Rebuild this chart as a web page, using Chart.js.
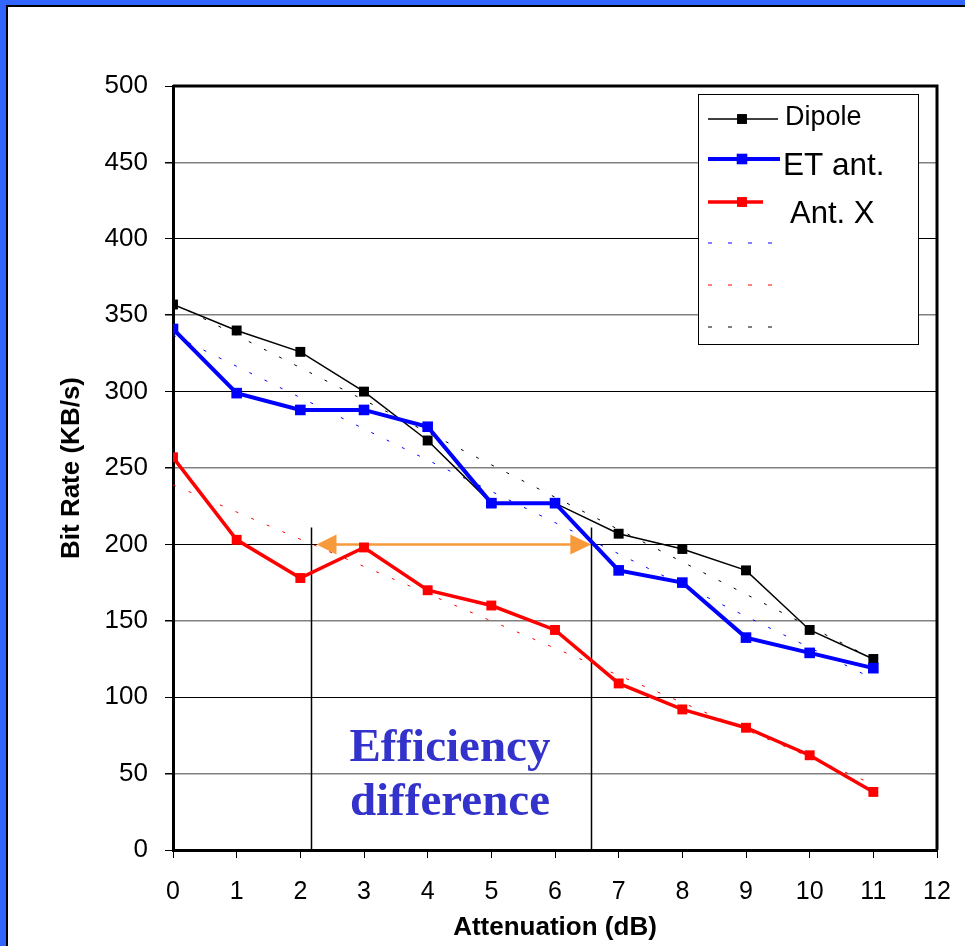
<!DOCTYPE html>
<html>
<head>
<meta charset="utf-8">
<script src="https://cdn.jsdelivr.net/npm/chart.js@4.4.1/dist/chart.umd.min.js"></script>
<style>
  html, body { margin: 0; padding: 0; }
  body { width: 965px; height: 946px; background: #3366ff; position: relative; overflow: hidden; }
  #panel { position: absolute; left: 6px; top: 5px; right: 0; bottom: 0; background: #fff;
           border-left: 2px solid #000; border-top: 2px solid #000; }
  #chart { position: absolute; left: 0; top: 0; }
</style>
</head>
<body>
<div id="panel"></div>
<canvas id="chart" width="965" height="946"></canvas>
<script>
// === Datos ===
const attenuation = [0, 1, 2, 3, 4, 5, 6, 7, 8, 9, 10, 11];
const dipole = [357, 340, 326, 300, 268, 227, 227, 207, 197, 183, 144, 125];
const etAnt  = [341, 299, 288, 288, 277, 227, 227, 183, 175, 139, 129, 119];
const antX   = [257, 203, 178, 198, 170, 160, 144, 109, 92, 80, 62, 38];

// lineas de tendencia (punteadas), extremos
const trendX      = [0, 11];
const dipoleTrend = [358, 125];
const etTrend     = [337, 112];
const antXTrend   = [239, 43];

const seriesLabels = ["Dipole", "ET ant.", "Ant. X"];
const xTitle = "Attenuation (dB)";
const yTitle = "Bit Rate (KB/s)";

// anotacion "Efficiency difference"
const markerX = [2.16, 6.57];
const markerTop = 211;
const arrowY = 200;
const noteLines = ["Efficiency", "difference"];
const noteX = 4.35;
const noteY = [58, 23];

const SANS = '"Liberation Sans", Arial, sans-serif';
const SERIF = '"Liberation Serif", "Times New Roman", serif';

function pts(xs, ys) {
    return xs.map((x, i) => ({ x: x, y: ys[i] }));
}

// === Plugin: marco, flecha, texto y leyenda ===
const extras = {
    id: "extras",
    beforeDatasetsDraw(chart) {
        const { ctx, chartArea: a, scales: { x, y } } = chart;
        ctx.save();
        ctx.strokeStyle = "#000";
        ctx.lineWidth = 3;
        ctx.beginPath();
        ctx.moveTo(a.left, a.top);
        ctx.lineTo(a.right, a.top);
        ctx.lineTo(a.right, a.bottom);
        ctx.stroke();

        ctx.lineWidth = 1.5;
        markerX.forEach(v => {
            const px = Math.round(x.getPixelForValue(v)) + 0.5;
            ctx.beginPath();
            ctx.moveTo(px, y.getPixelForValue(markerTop));
            ctx.lineTo(px, a.bottom);
            ctx.stroke();
        });

        const ay = y.getPixelForValue(arrowY);
        const x1 = x.getPixelForValue(markerX[0]) + 6;
        const x2 = x.getPixelForValue(markerX[1]);
        ctx.strokeStyle = "#f79a3c";
        ctx.fillStyle = "#f79a3c";
        ctx.lineWidth = 2.5;
        ctx.beginPath();
        ctx.moveTo(x1 + 15, ay);
        ctx.lineTo(x2 - 15, ay);
        ctx.stroke();
        ctx.beginPath();
        ctx.moveTo(x1, ay); ctx.lineTo(x1 + 20, ay - 10); ctx.lineTo(x1 + 20, ay + 10); ctx.closePath();
        ctx.fill();
        ctx.beginPath();
        ctx.moveTo(x2, ay); ctx.lineTo(x2 - 21, ay - 10); ctx.lineTo(x2 - 21, ay + 10); ctx.closePath();
        ctx.fill();
        ctx.restore();
    },
    afterDraw(chart) {
        const { ctx, scales: { x, y } } = chart;
        const ds = chart.data.datasets;
        ctx.save();

        // texto
        ctx.fillStyle = "#3333cc";
        ctx.font = "bold 47px " + SERIF;
        ctx.textAlign = "center";
        ctx.textBaseline = "alphabetic";
        noteLines.forEach((t, i) => ctx.fillText(t, x.getPixelForValue(noteX), y.getPixelForValue(noteY[i])));

        // leyenda
        ctx.fillStyle = "#fff";
        ctx.fillRect(698, 94, 221, 251);
        ctx.strokeStyle = "#000";
        ctx.lineWidth = 1;
        ctx.strokeRect(698.5, 94.5, 220, 250);

        const rows = [
            { i: 0, ly: 119, end: 778, text: ds[0].label, tx: 785, ty: 118, size: 27 },
            { i: 1, ly: 159, end: 780, text: ds[1].label, tx: 783, ty: 166, size: 31.5 },
            { i: 2, ly: 202, end: 763, text: ds[2].label, tx: 790, ty: 214, size: 31 },
            { i: 3, ly: 243, end: 772 },
            { i: 4, ly: 285, end: 772 },
            { i: 5, ly: 327, end: 772 }
        ];
        ctx.textAlign = "left";
        ctx.textBaseline = "middle";
        rows.forEach(r => {
            const d = ds[r.i];
            ctx.strokeStyle = d.borderColor;
            if (d.borderDash) {
                ctx.lineWidth = 1;
                ctx.setLineDash([4, 16]);
            } else {
                ctx.lineWidth = d.borderWidth;
                ctx.setLineDash([]);
            }
            ctx.beginPath();
            ctx.moveTo(708, r.ly);
            ctx.lineTo(r.end, r.ly);
            ctx.stroke();
            ctx.setLineDash([]);
            if (!d.borderDash) {
                const s = d.pointRadius * Math.SQRT1_2;
                ctx.fillStyle = d.backgroundColor;
                ctx.fillRect(742 - s, r.ly - s, 2 * s, 2 * s);
            }
            if (r.text) {
                ctx.fillStyle = "#000";
                ctx.font = r.size + "px " + SANS;
                ctx.fillText(r.text, r.tx, r.ty);
            }
        });
        ctx.restore();
    }
};

// === Grafico ===
const ctx = document.getElementById("chart").getContext("2d");

new Chart(ctx, {
    type: "line",
    data: {
        datasets: [
            {
                label: seriesLabels[0],
                data: pts(attenuation, dipole),
                borderColor: "#000000",
                backgroundColor: "#000000",
                borderWidth: 1.5,
                pointStyle: "rect",
                pointRadius: 7,
                pointBorderWidth: 0,
                order: 2
            },
            {
                label: seriesLabels[1],
                data: pts(attenuation, etAnt),
                borderColor: "#0000ff",
                backgroundColor: "#0000ff",
                borderWidth: 4,
                pointStyle: "rect",
                pointRadius: 7.5,
                pointBorderWidth: 0,
                order: 1
            },
            {
                label: seriesLabels[2],
                data: pts(attenuation, antX),
                borderColor: "#ff0000",
                backgroundColor: "#ff0000",
                borderWidth: 3.5,
                pointStyle: "rect",
                pointRadius: 7,
                pointBorderWidth: 0,
                order: 1
            },
            {
                label: "",
                data: pts(trendX, etTrend),
                borderColor: "#0000ff",
                borderWidth: 1,
                borderDash: [3, 14],
                pointRadius: 0,
                order: 3
            },
            {
                label: "",
                data: pts(trendX, antXTrend),
                borderColor: "#ff0000",
                borderWidth: 1,
                borderDash: [3, 14],
                pointRadius: 0,
                order: 3
            },
            {
                label: "",
                data: pts(trendX, dipoleTrend),
                borderColor: "#000000",
                borderWidth: 1,
                borderDash: [3, 14],
                pointRadius: 0,
                order: 3
            }
        ]
    },
    options: {
        responsive: false,
        animation: false,
        layout: { padding: { top: 86, right: 28, left: 0, bottom: 0 } },
        plugins: {
            legend: { display: false },
            tooltip: { enabled: false }
        },
        scales: {
            x: {
                type: "linear",
                min: 0,
                max: 12,
                afterFit: s => { s.height = 96; s.paddingRight = 0; s.paddingLeft = 0; },
                ticks: { stepSize: 1, color: "#000", padding: 19, font: { family: SANS, size: 25 } },
                grid: { drawOnChartArea: false, tickLength: 8, tickColor: "#000" },
                border: { color: "#000", width: 3 },
                title: {
                    display: true,
                    text: xTitle,
                    color: "#000",
                    font: { family: SANS, size: 26, weight: "bold" },
                    padding: { top: 0, bottom: 3 }
                }
            },
            y: {
                min: 0,
                max: 500,
                afterFit: s => { s.width = 173; },
                ticks: { stepSize: 50, color: "#000", padding: 17, font: { family: SANS, size: 26 } },
                grid: {
                    color: c => (c.tick && c.tick.value % 100 === 0) ? "#000000" : "#808080",
                    lineWidth: c => (c.tick && c.tick.value % 100 === 0) ? 1 : 1.5,
                    tickLength: 8,
                    tickColor: "#000"
                },
                border: { color: "#000", width: 3 },
                title: {
                    display: true,
                    text: yTitle,
                    color: "#000",
                    font: { family: SANS, size: 26, weight: "bold" },
                    padding: { top: 56, bottom: 0 }
                }
            }
        }
    },
    plugins: [extras]
});
</script>
</body>
</html>
